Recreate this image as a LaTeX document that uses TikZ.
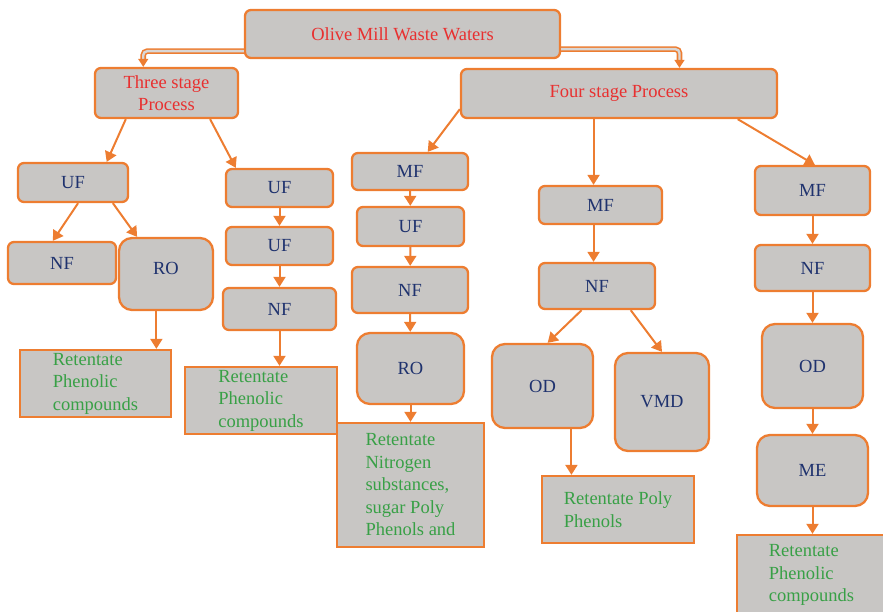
\documentclass[tikz,border=0pt]{standalone}
\usepackage{fontspec}
\setmainfont{Liberation Serif}
\usetikzlibrary{calc,arrows.meta}
\definecolor{borange}{RGB}{237,125,49}
\definecolor{bgray}{RGB}{200,198,196}
\definecolor{tred}{RGB}{232,48,48}
\definecolor{tnavy}{RGB}{31,50,110}
\definecolor{tgreen}{RGB}{56,160,70}
\begin{document}
\begin{tikzpicture}[x=1pt,y=-1pt,
  box/.style={draw=borange, line width=2.3pt, fill=bgray, rounded corners=6pt,
    font=\fontsize{18.5}{22.5}\selectfont, text=tnavy, inner sep=0pt},
  bigbox/.style={box, rounded corners=13pt},
  titlebox/.style={box, text=tred},
  retbox/.style={draw=borange, line width=2.3pt, fill=bgray,
    font=\fontsize{18.5}{22.5}\selectfont, text=tgreen, align=left, inner sep=0pt},
  arr/.style={draw=borange, line width=2pt, -{Triangle[length=10pt,width=12pt]}},
  darr/.style={draw=borange, line width=1.6pt, double=bgray!70, double distance=2.4pt,
    rounded corners=4pt, -{Triangle[length=8pt,width=10pt]}}
]
\useasboundingbox (0,0) rectangle (883,612);
\clip (0,0) rectangle (883,612);

% top level
\node[titlebox, minimum width=315pt, minimum height=48pt] (Olive) at (402.5,34) {Olive Mill Waste Waters};
\node[titlebox, align=center, minimum width=143pt, minimum height=50pt] (Three) at (166.5,93) {Three stage\\Process};
\node[titlebox, minimum width=316pt, minimum height=49pt] (Four) at (619,93.5) {Four stage Process};

% three stage, left branch
\node[box, minimum width=110pt, minimum height=39pt] (UFa) at (73,182.5) {UF};
\node[box, minimum width=108pt, minimum height=42pt] (NFa) at (62,263) {NF};
\node[bigbox, minimum width=94pt, minimum height=72pt, text depth=12pt] (ROa) at (166,274) {RO};
\node[retbox, minimum width=151pt, minimum height=67pt] (Reta) at (95.5,383.5) {Retentate\\Phenolic\\compounds};

% three stage, right branch
\node[box, minimum width=107pt, minimum height=38pt] (UFb) at (279.5,188) {UF};
\node[box, minimum width=107pt, minimum height=38pt] (UFc) at (279.5,246) {UF};
\node[box, minimum width=113pt, minimum height=42pt] (NFb) at (279.5,309) {NF};
\node[retbox, minimum width=152pt, minimum height=67pt] (Retb) at (261,400.5) {Retentate\\Phenolic\\compounds};

% four stage, branch 1
\node[box, minimum width=116pt, minimum height=37pt] (MFc) at (410,171.5) {MF};
\node[box, minimum width=107pt, minimum height=39pt] (UFd) at (410.5,226.5) {UF};
\node[box, minimum width=116pt, minimum height=46pt] (NFc) at (410,290) {NF};
\node[bigbox, minimum width=107pt, minimum height=71pt] (ROc) at (410.5,368.5) {RO};
\node[retbox, minimum width=147pt, minimum height=124pt] (Retc) at (410.5,485) {Retentate\\Nitrogen\\substances,\\sugar Poly\\Phenols and};

% four stage, branch 2
\node[box, minimum width=123pt, minimum height=38pt] (MFd) at (600.5,205) {MF};
\node[box, minimum width=116pt, minimum height=46pt] (NFd) at (597,286) {NF};
\node[bigbox, minimum width=101pt, minimum height=84pt] (ODd) at (542.5,386) {OD};
\node[bigbox, minimum width=94pt, minimum height=98pt] (VMD) at (662,402) {VMD};
\node[retbox, minimum width=152pt, minimum height=67pt] (Retd) at (618,509.5) {Retentate Poly\\Phenols};

% four stage, branch 3
\node[box, minimum width=115pt, minimum height=49pt] (MFe) at (812.5,190.5) {MF};
\node[box, minimum width=115pt, minimum height=46pt] (NFe) at (812.5,268) {NF};
\node[bigbox, minimum width=101pt, minimum height=84pt] (ODe) at (812.5,366) {OD};
\node[bigbox, minimum width=111pt, minimum height=71pt] (ME) at (812.5,470.5) {ME};
\node[retbox, minimum width=149pt, minimum height=80pt] (Rete) at (811.5,575) {Retentate\\Phenolic\\compounds};

% double arrows from the top box
\coordinate (o1) at ($(Olive.south west)+(0,-8)$);
\coordinate (t1) at ($(Three.north west)!0.34!(Three.north east)$);
\draw[darr] (o1) -| (t1);
\coordinate (o2) at ($(Olive.south east)+(0,-10)$);
\coordinate (f1) at ($(Four.north west)!0.69!(Four.north east)$);
\draw[darr] (o2) -| (f1);

% three stage connectors
\draw[arr] ($(Three.south west)!0.22!(Three.south east)$) -- ($(UFa.north west)!0.8!(UFa.north east)$);
\draw[arr] ($(Three.south west)!0.8!(Three.south east)$) -- ($(UFb.north west)!0.1!(UFb.north east)$);
\draw[arr] ($(UFa.south west)!0.545!(UFa.south east)$) -- ($(NFa.north west)!0.417!(NFa.north east)$);
\draw[arr] ($(UFa.south west)!0.855!(UFa.south east)$) -- ($(ROa.north west)!0.2!(ROa.north east)$);
\coordinate (r1) at ($(ROa.south west)!0.4!(ROa.south east)$);
\draw[arr] (r1) -- (r1 |- Reta.north);
\draw[arr] (UFb) -- (UFc);
\draw[arr] (UFc) -- (NFb);
\draw[arr] (NFb.south) -- (NFb.south |- Retb.north);

% four stage connectors
\draw[arr] ($(Four.south west)+(0,-10)$) -- ($(MFc.north west)!0.65!(MFc.north east)$);
\draw[arr] (MFc) -- (UFd);
\draw[arr] (UFd) -- (NFc);
\draw[arr] (NFc) -- (ROc);
\draw[arr] (ROc.south) -- (ROc.south |- Retc.north);

\coordinate (f2) at ($(Four.south west)!0.42!(Four.south east)$);
\draw[arr] (f2) -- (f2 |- MFd.north);
\coordinate (m2) at (f2 |- MFd.south);
\draw[arr] (m2) -- (m2 |- NFd.north);
\draw[arr] ($(NFd.south west)!0.37!(NFd.south east)$) -- ($(ODd.north west)!0.55!(ODd.north east)$);
\draw[arr] ($(NFd.south west)!0.785!(NFd.south east)$) -- (VMD.north);
\coordinate (d2) at ($(ODd.south west)!0.78!(ODd.south east)$);
\draw[arr] (d2) -- (d2 |- Retd.north);

\draw[arr] ($(Four.south west)!0.873!(Four.south east)$) -- ($(MFe.north west)!0.52!(MFe.north east)$);
\draw[arr] (MFe) -- (NFe);
\draw[arr] (NFe) -- (ODe);
\draw[arr] (ODe) -- (ME);
\draw[arr] (ME.south) -- (ME.south |- Rete.north);
\end{tikzpicture}
\end{document}
